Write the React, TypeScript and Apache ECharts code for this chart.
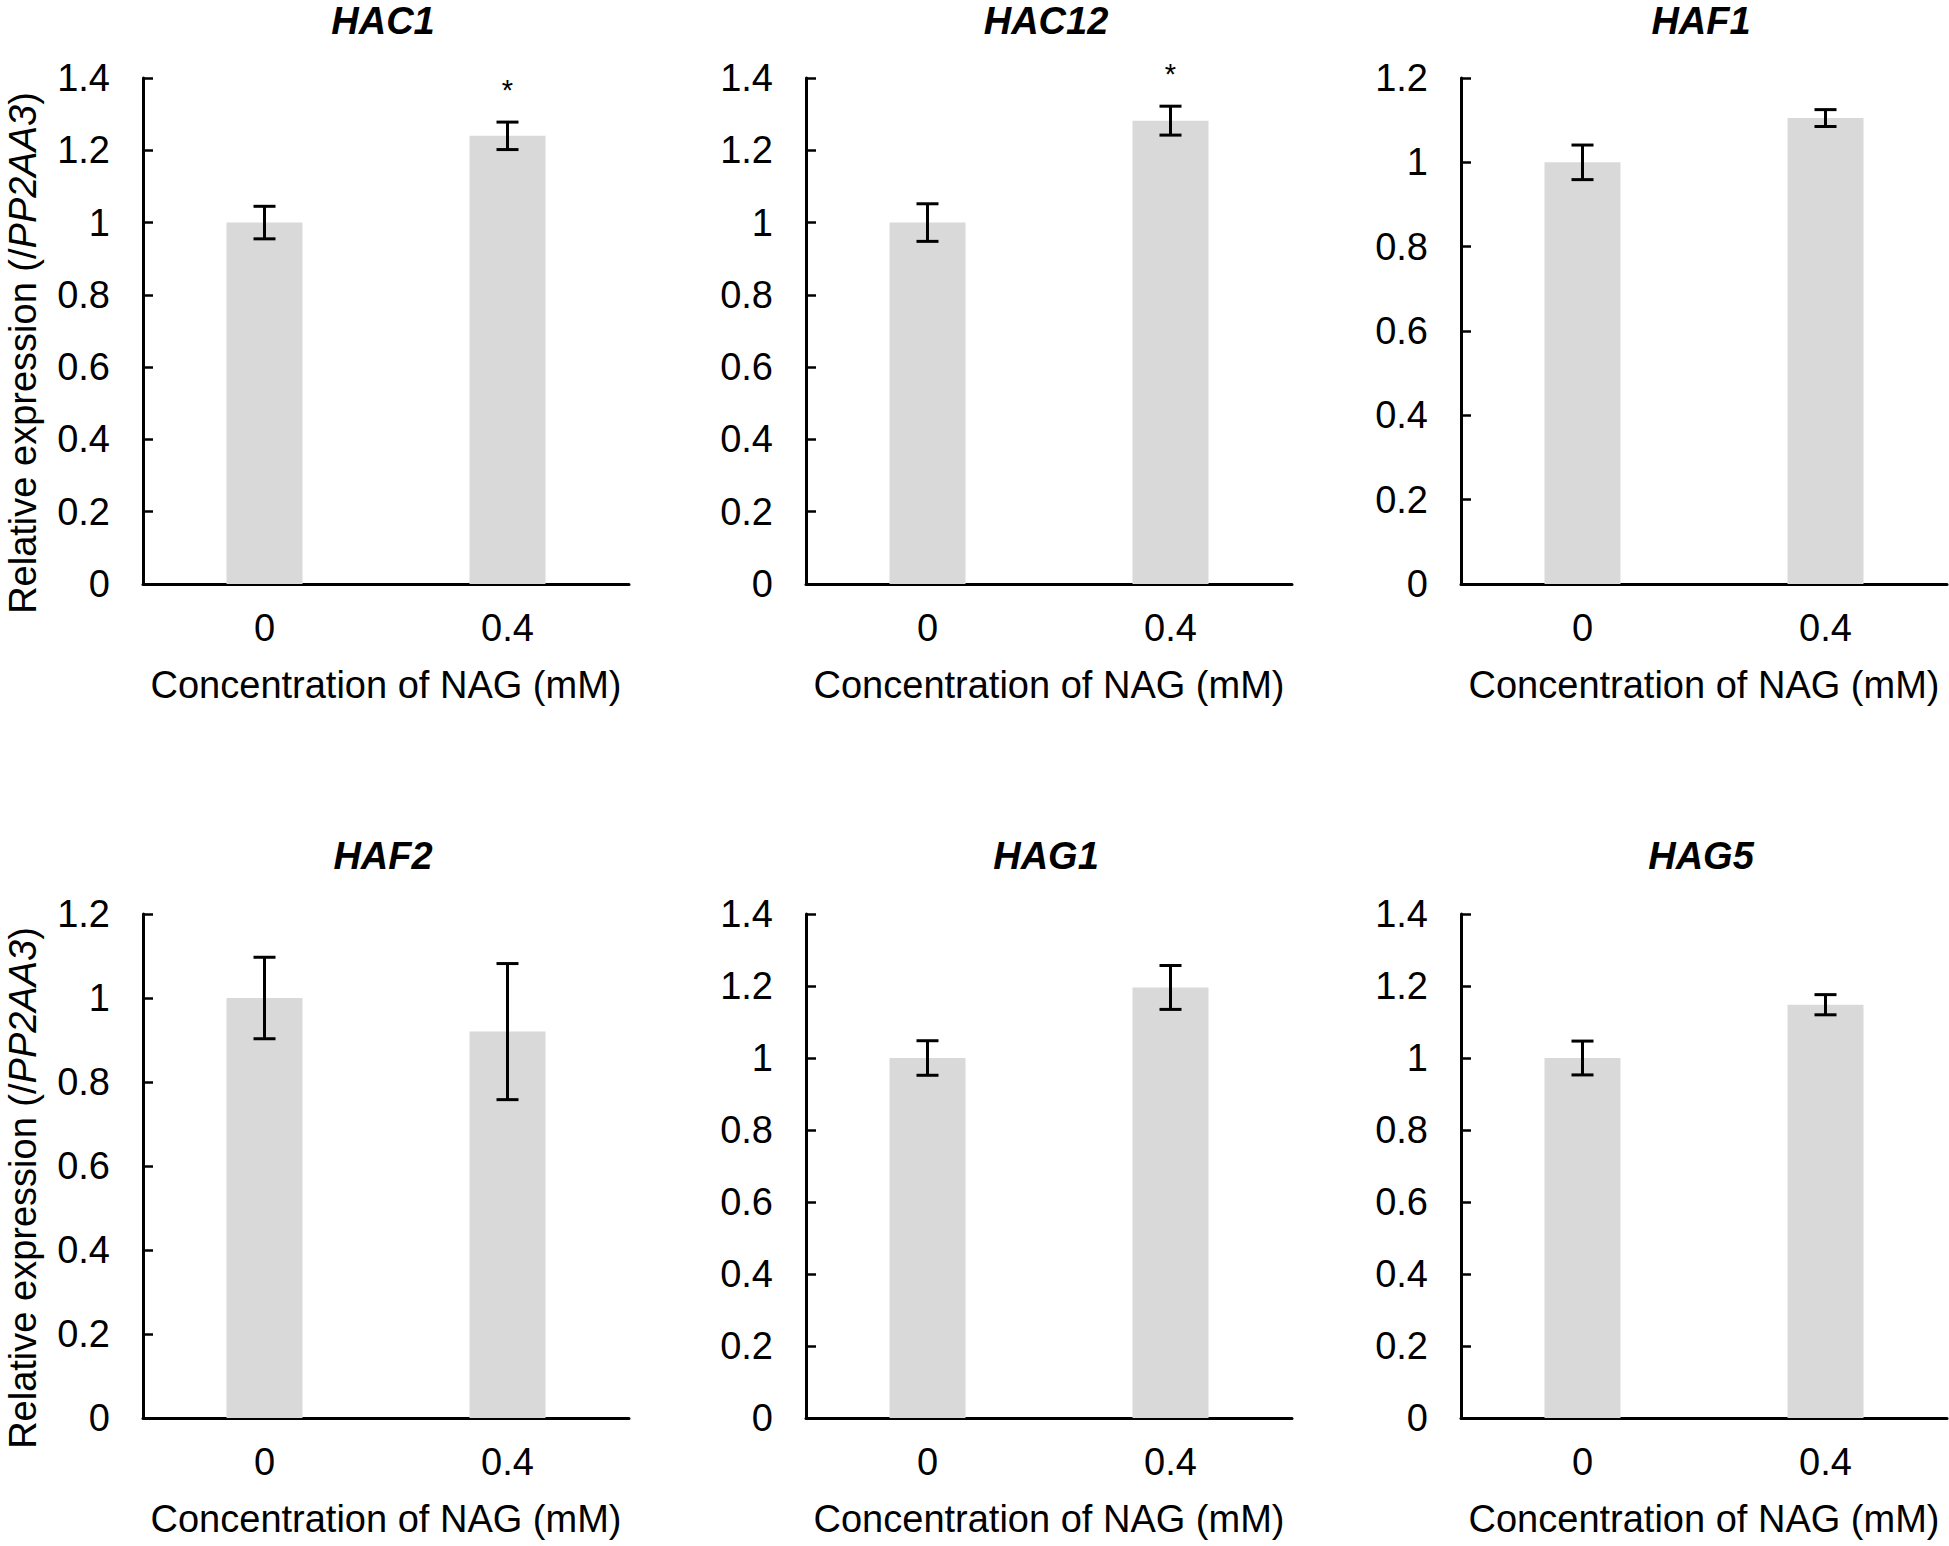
import React, { useEffect, useRef } from "react";
import * as echarts from "echarts";

const categories = ["0", "0.4"];
const genes = ["HAC1", "HAC12", "HAF1", "HAF2", "HAG1", "HAG5"];
const means = [
  [1.0, 1.24],
  [1.0, 1.282],
  [1.0, 1.105],
  [1.0, 0.92],
  [1.0, 1.196],
  [1.0, 1.148],
];
const errors = [
  [0.045, 0.038],
  [0.052, 0.04],
  [0.041, 0.02],
  [0.097, 0.162],
  [0.048, 0.061],
  [0.047, 0.028],
];
const significance = [
  ["", "*"],
  ["", "*"],
  ["", ""],
  ["", ""],
  ["", ""],
  ["", ""],
];
const yMax = [1.4, 1.4, 1.2, 1.2, 1.4, 1.4];
const yInterval = 0.2;
const xAxisTitle = "Concentration of NAG (mM)";

const FONT = "'Liberation Sans', Arial, sans-serif";
const FS = 38;
const colLeft = [143, 806, 1461];
const rowTop = [78, 914];
const rowHeight = [506, 504];
const gridWidth = 486;

export default function App() {
  const ref = useRef<HTMLDivElement>(null);

  useEffect(() => {
    if (!ref.current) return;
    const chart = echarts.init(ref.current, null, { renderer: "svg" });

    const grids: any[] = [];
    const xAxes: any[] = [];
    const yAxes: any[] = [];
    const series: any[] = [];
    const titles: any[] = [];
    const graphics: any[] = [];

    genes.forEach((gene, i) => {
      const row = Math.floor(i / 3);
      const col = i % 3;
      const left = colLeft[col];
      const top = rowTop[row];
      const height = rowHeight[row];
      grids.push({ left, top, width: gridWidth, height, containLabel: false });

      titles.push({
        text: gene,
        left: left + gridWidth / 2 - 3,
        top: row === 0 ? 21 : 856,
        textAlign: "center",
        textVerticalAlign: "middle",
        padding: 0,
        textStyle: {
          fontFamily: FONT,
          fontSize: 38,
          fontWeight: "bold",
          fontStyle: "italic",
          color: "#000",
        },
      });

      xAxes.push({
        type: "category",
        gridIndex: i,
        data: categories,
        axisLine: { lineStyle: { color: "#000", width: 3 } },
        axisTick: { show: false },
        axisLabel: { color: "#000", fontSize: FS, fontFamily: FONT, margin: 25 },
        name: xAxisTitle,
        nameLocation: "middle",
        nameGap: 82,
        nameTextStyle: { color: "#000", fontSize: FS, fontFamily: FONT },
      });

      yAxes.push({
        type: "value",
        gridIndex: i,
        min: 0,
        max: yMax[i],
        interval: yInterval,
        axisLine: { show: true, lineStyle: { color: "#000", width: 3 } },
        axisTick: { show: true, inside: true, length: 10, lineStyle: { color: "#000", width: 2.5 } },
        axisLabel: { color: "#000", fontSize: FS, fontFamily: FONT, margin: 33 },
        splitLine: { show: false },
      });

      series.push({
        type: "bar",
        xAxisIndex: i,
        yAxisIndex: i,
        data: means[i],
        barWidth: 76,
        itemStyle: { color: "#d9d9d9" },
        silent: true,
      });

      const errData = means[i].map((m, k) => [k, m - errors[i][k], m + errors[i][k], significance[i][k]]);
      series.push({
        type: "custom",
        xAxisIndex: i,
        yAxisIndex: i,
        z: 10,
        silent: true,
        data: errData,
        encode: { x: 0, y: [1, 2] },
        renderItem: (params: any, api: any) => {
          const idx = api.value(0);
          const lo = api.coord([idx, api.value(1)]);
          const hi = api.coord([idx, api.value(2)]);
          const sig = errData[params.dataIndex][3] as string;
          const cap = 11;
          const lineStyle = { stroke: "#000", lineWidth: 3 };
          const children: any[] = [
            { type: "line", shape: { x1: lo[0], y1: lo[1], x2: hi[0], y2: hi[1] }, style: lineStyle },
            { type: "line", shape: { x1: hi[0] - cap, y1: hi[1], x2: hi[0] + cap, y2: hi[1] }, style: lineStyle },
            { type: "line", shape: { x1: lo[0] - cap, y1: lo[1], x2: lo[0] + cap, y2: lo[1] }, style: lineStyle },
          ];
          if (sig) {
            children.push({
              type: "text",
              style: {
                text: sig,
                x: hi[0],
                y: hi[1] - 32,
                align: "center",
                verticalAlign: "middle",
                fontSize: 29,
                fontFamily: FONT,
                fill: "#000",
              },
            });
          }
          return { type: "group", children };
        },
      });

      if (col === 0) {
        graphics.push({
          type: "text",
          x: 23,
          y: top + height / 2 + 22,
          rotation: Math.PI / 2,
          style: {
            text: "{n|Relative expression (/}{i|PP2AA3}{n|)}",
            align: "center",
            verticalAlign: "middle",
            fill: "#000",
            fontSize: FS,
            fontFamily: FONT,
            rich: {
              n: { fontSize: FS, fontFamily: FONT, fill: "#000" },
              i: { fontSize: FS, fontFamily: FONT, fontStyle: "italic", fill: "#000" },
            },
          },
        });
      }
    });

    chart.setOption({
      animation: false,
      backgroundColor: "#fff",
      title: titles,
      grid: grids,
      xAxis: xAxes,
      yAxis: yAxes,
      series,
      graphic: graphics,
    });

    return () => chart.dispose();
  }, []);

  return (
    <div
      ref={ref}
      style={{ position: "fixed", left: 0, top: 0, width: "1949px", height: "1546px", background: "#fff" }}
    />
  );
}
